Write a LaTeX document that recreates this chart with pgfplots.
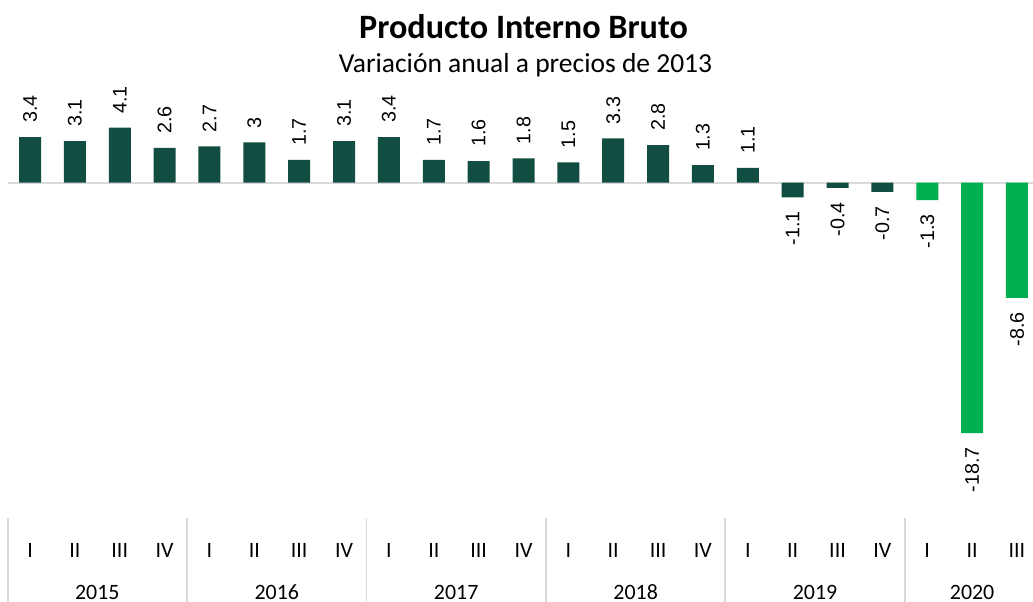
\documentclass[border=0pt]{standalone}
\usepackage{pgfplots}
\pgfplotsset{compat=1.18}
\usepackage{fontspec}
\setmainfont{Carlito}
\newfontfamily\lab{Liberation Sans}
\definecolor{darkg}{HTML}{124D41}
\definecolor{brightg}{HTML}{00B050}
\definecolor{lgray}{HTML}{D9D9D9}
\begin{document}
\begin{tikzpicture}
\begin{axis}[
  at={(7.6bp,71bp)}, anchor=south west,
  scale only axis,
  width=1025.5bp, height=428.8bp,
  xmin=-0.5, xmax=22.36,
  ymin=-26, ymax=6,
  axis line style={draw=none},
  tick style={draw=none},
  major tick length=0pt,
  clip=false,
  ybar, bar width=22bp, bar shift=0pt,
  xtick={0,...,22},
  xticklabels={I,II,III,IV,I,II,III,IV,I,II,III,IV,I,II,III,IV,I,II,III,IV,I,II,III},
  xticklabel style={anchor=base, yshift=-26.3bp, inner sep=0pt, font=\fontsize{22}{24}\selectfont},
  ytick=\empty,
  nodes near coords={\pgfmathprintnumber[assume math mode=true,fixed,precision=1]{\pgfplotspointmeta}},
  every node near coord/.append style={font=\lab\fontsize{19.8}{20}\selectfont, rotate=90, inner xsep=14bp, inner ysep=0pt, text=black},
]
\draw[lgray, line width=2bp] (axis cs:-0.5,0) -- (axis cs:22.36,0);
\addplot[fill=darkg, draw=none, every node near coord/.append style={anchor=west}] coordinates {
(0,3.4) (1,3.1) (2,4.1) (3,2.6) (4,2.7) (5,3) (6,1.7) (7,3.1) (8,3.4) (9,1.7) (10,1.6) (11,1.8) (12,1.5) (13,3.3) (14,2.8) (15,1.3) (16,1.1)};
\addplot[fill=darkg, draw=none, every node near coord/.append style={anchor=east}] coordinates {
(17,-1.1) (18,-0.4) (19,-0.7)};
\addplot[fill=brightg, draw=none, every node near coord/.append style={anchor=east}] coordinates {
(20,-1.3) (21,-18.7) (22,-8.6)};
\draw[lgray, line width=1.8bp] (axis cs:-0.5,-25.03) -- (axis cs:-0.5,-31.5);
\draw[lgray, line width=1.8bp] (axis cs:3.5,-25.03) -- (axis cs:3.5,-31.5);
\draw[lgray, line width=1.8bp] (axis cs:7.5,-25.03) -- (axis cs:7.5,-31.5);
\draw[lgray, line width=1.8bp] (axis cs:11.5,-25.03) -- (axis cs:11.5,-31.5);
\draw[lgray, line width=1.8bp] (axis cs:15.5,-25.03) -- (axis cs:15.5,-31.5);
\draw[lgray, line width=1.8bp] (axis cs:19.5,-25.03) -- (axis cs:19.5,-31.5);
\node[anchor=base, font=\fontsize{22}{24}\selectfont, inner sep=0pt] at ([yshift=-68bp]axis cs:1.5,-26) {2015};
\node[anchor=base, font=\fontsize{22}{24}\selectfont, inner sep=0pt] at ([yshift=-68bp]axis cs:5.5,-26) {2016};
\node[anchor=base, font=\fontsize{22}{24}\selectfont, inner sep=0pt] at ([yshift=-68bp]axis cs:9.5,-26) {2017};
\node[anchor=base, font=\fontsize{22}{24}\selectfont, inner sep=0pt] at ([yshift=-68bp]axis cs:13.5,-26) {2018};
\node[anchor=base, font=\fontsize{22}{24}\selectfont, inner sep=0pt] at ([yshift=-68bp]axis cs:17.5,-26) {2019};
\node[anchor=base, font=\fontsize{22}{24}\selectfont, inner sep=0pt] at ([yshift=-68bp]axis cs:21,-26) {2020};
\end{axis}
\node[anchor=base, font=\bfseries\fontsize{34.3}{36}\selectfont, inner sep=0pt] at (523.5bp,563.7bp) {Producto Interno Bruto};
\node[anchor=base, font=\fontsize{27.6}{30}\selectfont, inner sep=0pt] at (525.5bp,529.3bp) {Variación anual a precios de 2013};
\pgfresetboundingbox
\path (0,0) rectangle (1033bp,602bp);
\end{tikzpicture}
\end{document}
